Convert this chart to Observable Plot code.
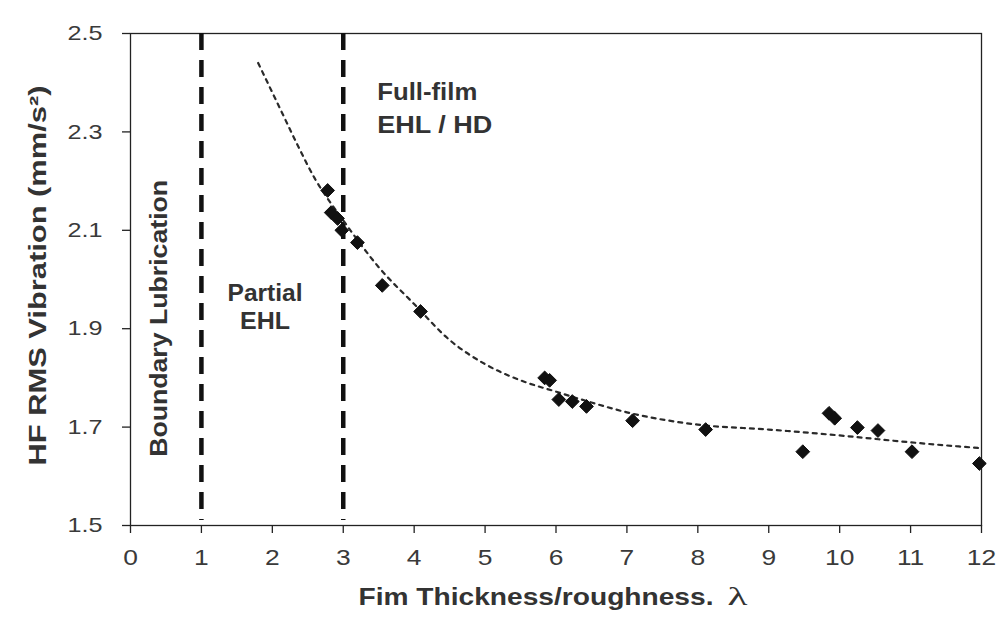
<!DOCTYPE html>
<html>
<head>
<meta charset="utf-8">
<script src="https://cdn.jsdelivr.net/npm/d3@7"></script>
<script src="https://cdn.jsdelivr.net/npm/@observablehq/plot@0.6"></script>
<style>
  html, body { margin: 0; padding: 0; background: #fff; }
</style>
</head>
<body>
<div id="chart"></div>
<script>
// Measured data points (film thickness ratio λ, HF RMS vibration)
const lambdaVals = [2.78, 2.83, 2.92, 2.98, 3.20, 3.55, 4.09, 5.84, 5.91, 6.04, 6.23, 6.43, 7.08, 8.11, 9.48, 9.85, 9.93, 10.25, 10.54, 11.02, 11.97];
const vibVals    = [2.181, 2.136, 2.124, 2.100, 2.075, 1.988, 1.935, 1.800, 1.795, 1.756, 1.752, 1.742, 1.713, 1.695, 1.650, 1.728, 1.718, 1.699, 1.693, 1.650, 1.626];

// Trend line
const trendX = [1.8, 2.1, 2.35, 2.6, 2.85, 3.0, 3.5, 4, 4.5, 5, 5.5, 6, 6.5, 7, 8, 9, 10, 11, 12];
const trendY = [2.44, 2.35, 2.275, 2.205, 2.15, 2.12, 2.025, 1.95, 1.877, 1.828, 1.795, 1.772, 1.75, 1.73, 1.705, 1.695, 1.683, 1.669, 1.657];

// Regime boundaries
const boundaries = [1, 3];

// Tick values
const xTicks = [0, 1, 2, 3, 4, 5, 6, 7, 8, 9, 10, 11, 12];
const yTicks = [1.5, 1.7, 1.9, 2.1, 2.3, 2.5];

// Annotations: centred ("Partial EHL") and left-aligned ("Full-film EHL / HD")
const partialText = ["Partial", "EHL"];
const partialX    = [1.897, 1.897];
const partialY    = [1.972, 1.915];
const fullText    = ["Full-film", "EHL / HD"];
const fullX       = [3.48, 3.48];
const fullY       = [2.379, 2.312];

const yLabel = "HF RMS Vibration (mm/s²)";
const xLabel = "Fim Thickness/roughness.";
const xLabelSymbol = "λ";
const regionLabel = "Boundary Lubrication";

const points = lambdaVals.map((x, i) => ({x, y: vibVals[i]}));
const trend = trendX.map((x, i) => ({x, y: trendY[i]}));
const partial = partialText.map((t, i) => ({t, x: partialX[i], y: partialY[i]}));
const full = fullText.map((t, i) => ({t, x: fullX[i], y: fullY[i]}));

const font = "'Liberation Sans', Arial, Helvetica, sans-serif";

const chart = Plot.plot({
  width: 1001,
  height: 618,
  marginLeft: 130,
  marginRight: 20,
  marginTop: 33,
  marginBottom: 93,
  style: {fontFamily: font, fontSize: "21px", color: "#222", background: "#fff"},
  x: {domain: [0, 12]},
  y: {domain: [1.5, 2.5]},
  marks: [
    Plot.frame({stroke: "#222", strokeWidth: 1.3}),
    Plot.axisX({ticks: xTicks, tickSize: 8, tickPadding: 16, label: null, fontSize: 22, fill: "#3a3a3a", strokeWidth: 1.3}),
    Plot.axisY({ticks: yTicks, tickSize: 8, tickPadding: 20, tickFormat: d3.format(".1f"), label: null, fontSize: 21, fill: "#3a3a3a", strokeWidth: 1.3}),
    Plot.ruleX(boundaries, {y1: 2.5, y2: 1.51, stroke: "#111", strokeWidth: 4.5, strokeDasharray: "17,10"}),
    Plot.line(trend, {x: "x", y: "y", curve: "monotone-x", stroke: "#2a2a2a", strokeWidth: 2.2, strokeDasharray: "4,5"}),
    Plot.dot(points, {x: "x", y: "y", symbol: "diamond2", r: 6.2, fill: "#111", stroke: "#111", strokeWidth: 1}),
    Plot.text(partial, {x: "x", y: "y", text: "t", textAnchor: "middle", fontWeight: "bold", fontSize: 23, fill: "#333"}),
    Plot.text(full, {x: "x", y: "y", text: "t", textAnchor: "start", fontWeight: "bold", fontSize: 23, fill: "#333"}),
    Plot.text([regionLabel], {x: 0.417, y: 1.921, rotate: -90, textAnchor: "middle", fontWeight: "bold", fontSize: 23, fill: "#333"}),
    Plot.text([yLabel], {frameAnchor: "left", dx: -92, dy: -4, rotate: -90, textAnchor: "middle", fontWeight: "bold", fontSize: 23, fill: "#333"}),
    Plot.text([xLabel], {frameAnchor: "bottom-left", dx: 583, dy: 79.6, textAnchor: "end", fontWeight: "bold", fontSize: 23, fill: "#333"}),
    Plot.text([xLabelSymbol], {frameAnchor: "bottom-left", dx: 597, dy: 79.6, textAnchor: "start", fontFamily: "'Liberation Serif', 'DejaVu Serif', serif", fontSize: 25, fill: "#333"})
  ]
});

document.getElementById("chart").appendChild(chart);

// Stretch text horizontally to match the reference's proportions
const targetLengths = {
  "Partial": 75, "EHL": 50, "Full-film": 100, "EHL / HD": 115,
  [regionLabel]: 277, [yLabel]: 380, [xLabel]: 355, [xLabelSymbol]: 20
};
chart.querySelectorAll("text").forEach(t => {
  const s = t.textContent;
  const len = t.getComputedTextLength();
  let target = null;
  if (s in targetLengths) target = targetLengths[s];
  else if (/^[0-9.]+$/.test(s)) target = len * 1.2;
  if (target) {
    t.setAttribute("textLength", target);
    t.setAttribute("lengthAdjust", "spacingAndGlyphs");
  }
});
</script>
</body>
</html>
